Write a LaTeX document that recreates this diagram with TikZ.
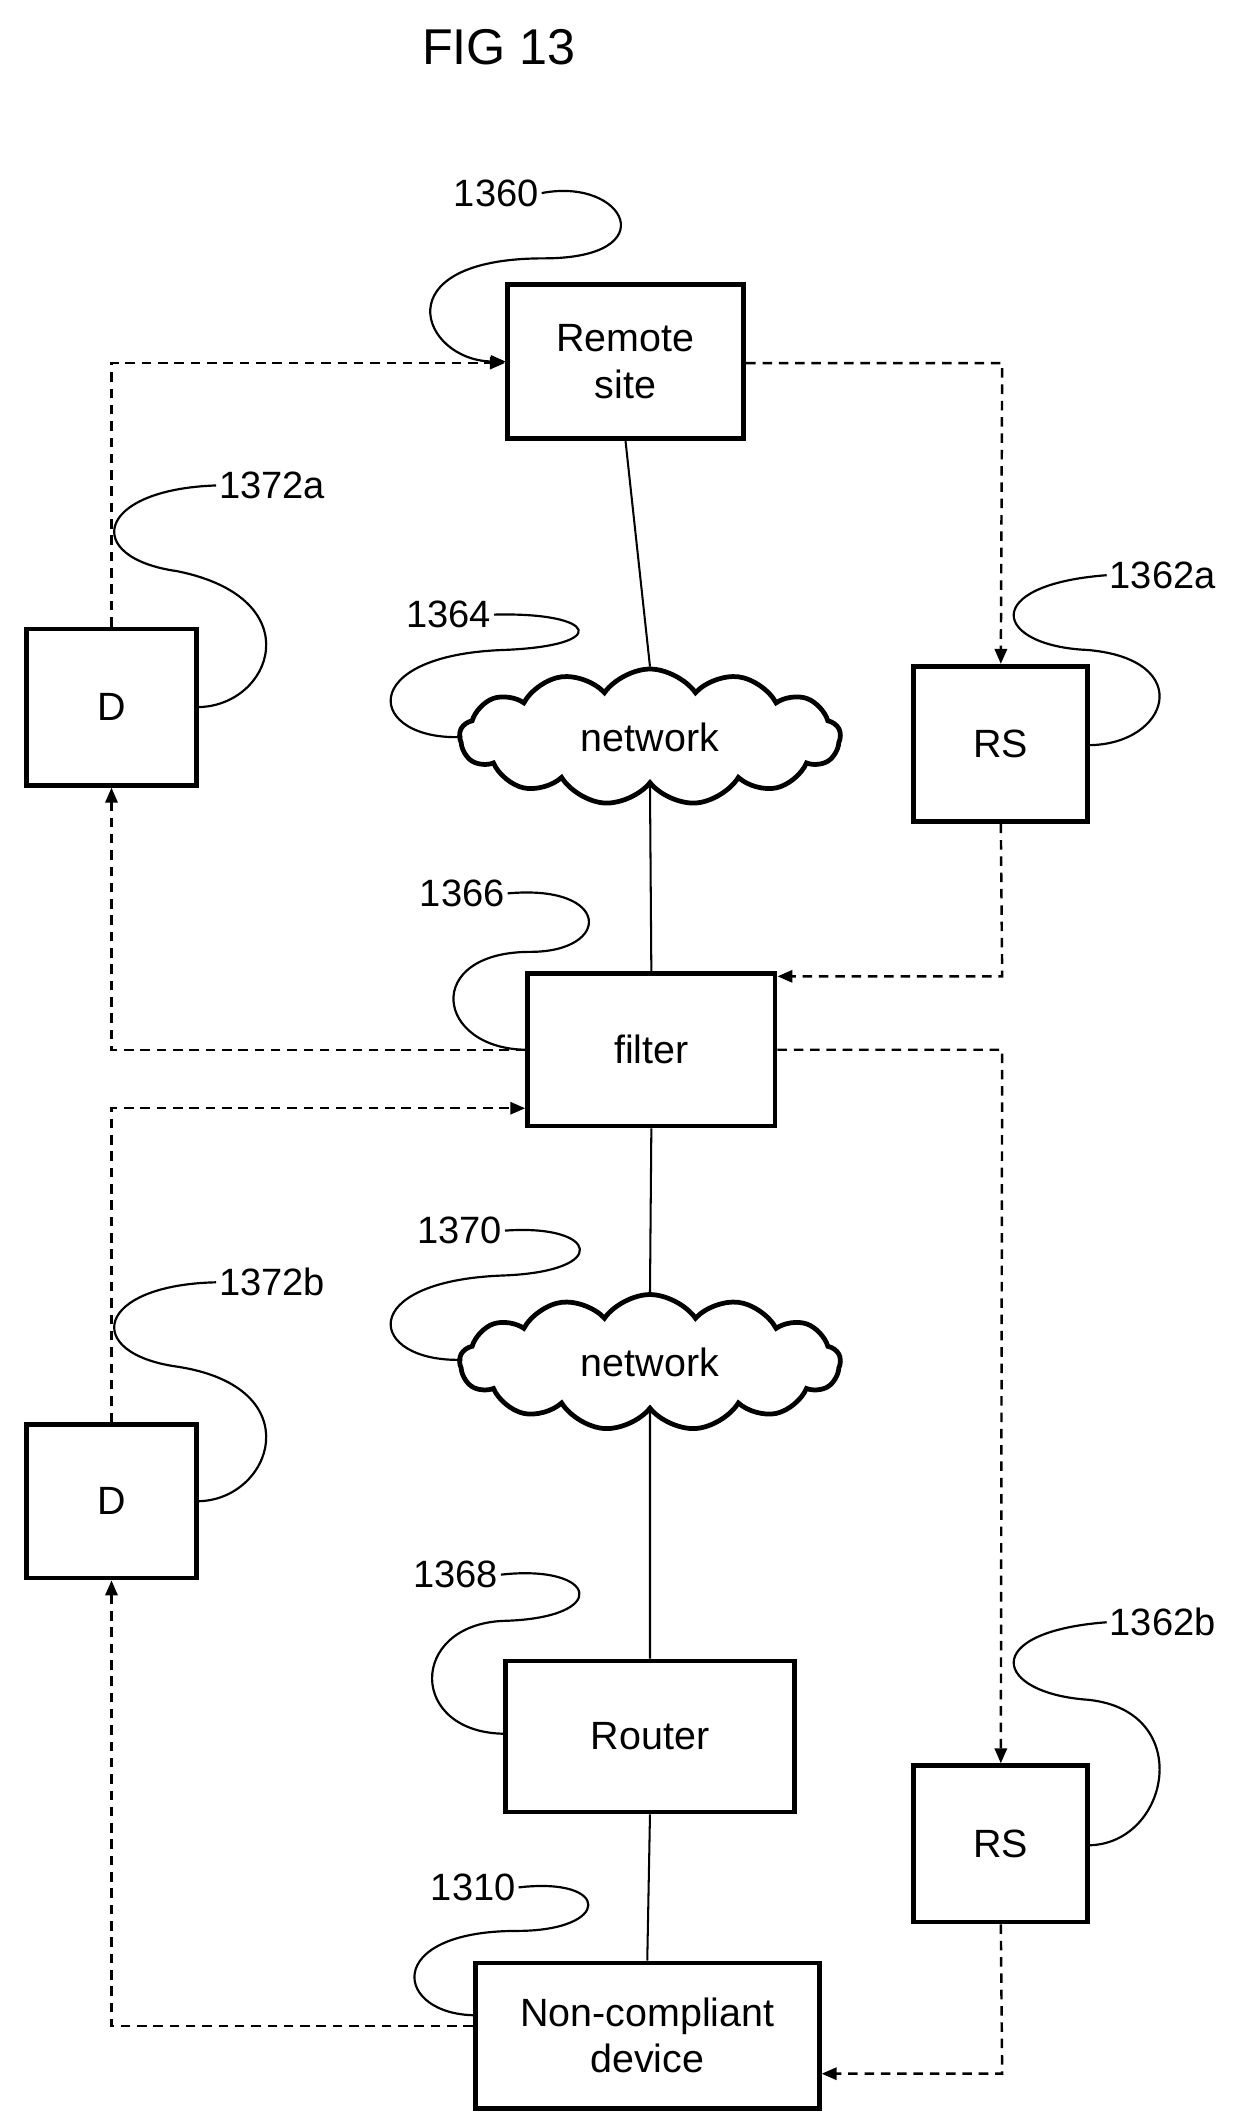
\documentclass[tikz,border=0pt]{standalone}
\usepackage{fontspec}
\setmainfont{Liberation Sans}
\usetikzlibrary{shapes.symbols,arrows.meta}
\begin{document}
\begin{tikzpicture}[x=1pt,y=-1pt,
  box/.style={draw,line width=3.5pt,inner sep=0pt,font=\fontsize{29}{34}\selectfont,align=center},
  cl/.style={draw,line width=3.5pt,cloud,cloud puffs=13,cloud puff arc=110,aspect=3.2,minimum width=280pt,minimum height=100pt,inner sep=0pt,font=\fontsize{29}{34}\selectfont},
  lab/.style={font=\fontsize{28}{32}\selectfont,inner sep=2pt},
  dsh/.style={dashed,dash pattern=on 7pt off 5pt,line width=1.8pt,-{Triangle[length=11pt,width=9pt]}},
  ln/.style={line width=1.5pt},
  sq/.style={line width=1.6pt}]
\useasboundingbox (0,0) rectangle (915,1562);
\node[font=\fontsize{37}{40}\selectfont] (title) at (367,35) {FIG 13};
\node[box,minimum width=174pt,minimum height=113pt] (rem) at (460,266) {Remote\\site};
\node[box,minimum width=125pt,minimum height=115pt] (d1) at (82,520) {D};
\node[cl] (n1) at (478,542) {network};
\node[box,minimum width=128pt,minimum height=114pt] (rs1) at (736,547) {RS};
\node[box,minimum width=182pt,minimum height=112pt] (fil) at (479,772) {filter};
\node[box,minimum width=125pt,minimum height=113pt] (d2) at (82,1104) {D};
\node[cl] (n2) at (478,1002) {network};
\node[box,minimum width=213pt,minimum height=111pt] (rt) at (478,1277) {Router};
\node[box,minimum width=128pt,minimum height=115pt] (rs2) at (736,1356) {RS};
\node[box,minimum width=253pt,minimum height=107pt] (ncd) at (476,1497) {Non-compliant\\device};
% solid links
\draw[ln] (rem.south) -- (n1.north);
\draw[ln] (n1.south) -- (fil.north);
\draw[ln] (fil.south) -- (n2.north);
\draw[ln] (n2.south) -- (rt.north);
\draw[ln] (rt.south) -- (ncd.north);
% dashed
\coordinate (a1) at (82,267); \coordinate (a2) at (737,267);
\draw[dsh] (d1.north) -- (a1) -- (rem.west |- a1);
\draw[dsh] (rem.east |- a2) -- (a2) -- (rs1.north);
\coordinate (a3) at (737,718);
\draw[dsh] (rs1.south) -- (a3) -- (fil.east |- a3);
\coordinate (a4) at (82,772);
\draw[dsh] (fil.west) -- (a4) -- (d1.south);
\coordinate (a5) at (82,815);
\draw[dsh] (d2.north) -- (a5) -- (fil.west |- a5);
\coordinate (a6) at (737,772);
\draw[dsh] (fil.east) -- (a6) -- (rs2.north);
\coordinate (a7) at (737,1525);
\draw[dsh] (rs2.south) -- (a7) -- (ncd.east |- a7);
\coordinate (a8) at (82,1490);
\draw[dsh] (ncd.west |- a8) -- (a8) -- (d2.south);
% labels
\node[lab] (l1360) at (365,142) {1360};
\node[lab] (l1372a) at (200,357) {1372a};
\node[lab] (l1364) at (330,452) {1364};
\node[lab] (l1362a) at (855,423) {1362a};
\node[lab] (l1366) at (340,657) {1366};
\node[lab] (l1370) at (338,905) {1370};
\node[lab] (l1372b) at (200,943) {1372b};
\node[lab] (l1368) at (335,1158) {1368};
\node[lab] (l1362b) at (855,1193) {1362b};
\node[lab] (l1310) at (348,1388) {1310};
\coordinate (e1) at (372,266);
\draw[sq,-{Triangle[length=11pt,width=9pt]}] (l1360.east) .. controls (460,130) and (490,190) .. (400,190) .. controls (280,190) and (310,265) .. (e1);
\draw[sq] (l1372a.west) .. controls (70,360) and (60,410) .. (130,420) .. controls (230,440) and (200,520) .. (145,520);
\draw[sq] (l1364.east) .. controls (440,450) and (450,475) .. (370,478) .. controls (260,482) and (270,545) .. (340,542);
\draw[sq] (l1362a.west) .. controls (720,430) and (730,475) .. (800,478) .. controls (880,485) and (860,548) .. (800,548);
\draw[sq] (l1366.east) .. controls (450,650) and (450,700) .. (390,700) .. controls (310,700) and (320,772) .. (388,772);
\draw[sq] (l1370.east) .. controls (440,900) and (450,935) .. (370,938) .. controls (260,942) and (270,1002) .. (340,1000);
\draw[sq] (l1372b.west) .. controls (70,945) and (60,995) .. (130,1005) .. controls (230,1020) and (200,1104) .. (145,1104);
\draw[sq] (l1368.east) .. controls (440,1150) and (450,1190) .. (370,1192) .. controls (300,1195) and (300,1275) .. (372,1275);
\draw[sq] (l1362b.west) .. controls (720,1200) and (730,1245) .. (800,1250) .. controls (880,1258) and (860,1357) .. (800,1357);
\draw[sq] (l1310.east) .. controls (450,1380) and (450,1420) .. (380,1420) .. controls (280,1420) and (290,1482) .. (350,1482);
\end{tikzpicture}
\end{document}
